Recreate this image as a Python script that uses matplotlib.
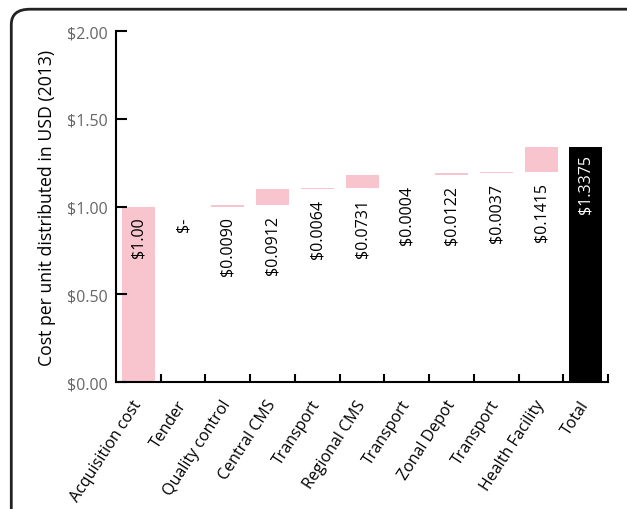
import numpy as np
import matplotlib
matplotlib.use("Agg")
import matplotlib.pyplot as plt
from matplotlib.patches import FancyBboxPatch

plt.rcParams['font.family'] = ['Open Sans', 'DejaVu Sans']

# ---- data ----
categories = ["Acquisition cost", "Tender", "Quality control", "Central CMS", "Transport",
              "Regional CMS", "Transport", "Zonal Depot", "Transport", "Health Facility", "Total"]
steps = [1.00, 0.0, 0.0090, 0.0912, 0.0064, 0.0731, 0.0004, 0.0122, 0.0037, 0.1415]
total = 1.3375
value_labels = ["$1.00", "$-", "$0.0090", "$0.0912", "$0.0064", "$0.0731",
                "$0.0004", "$0.0122", "$0.0037", "$0.1415", "$1.3375"]
yticks = [0.0, 0.5, 1.0, 1.5, 2.0]
ytick_labels = ["$0.00", "$0.50", "$1.00", "$1.50", "$2.00"]

pink = "#f8c5cf"

fig = plt.figure(figsize=(6.27, 5.10), dpi=100)
ax = fig.add_axes([0.185, 0.249, 0.785, 0.688])

x = np.arange(len(categories))
bottoms = np.concatenate([[0], np.cumsum(steps)[:-1]])
heights = np.array(steps)

# waterfall steps
ax.bar(x[:-1], heights, bottom=bottoms, width=0.74, color=pink, linewidth=0)
# total bar
ax.bar(x[-1], total, width=0.74, color="black", linewidth=0)

# value labels (rotated)
for i, lab in enumerate(value_labels):
    if i == len(value_labels) - 1:
        ax.annotate(lab, (x[i], total), xytext=(0, -5), textcoords="offset points",
                    rotation=90, ha="center", va="top", fontsize=11.5, color="white")
    else:
        anchor = bottoms[i] if bottoms[i] > 0 else bottoms[i] + heights[i]
        ax.annotate(lab, (x[i], anchor), xytext=(0, -7), textcoords="offset points",
                    rotation=90, ha="center", va="top", fontsize=11.5, color="black")

ax.set_xlim(-0.5, len(categories) - 0.5)
ax.set_ylim(0, 2.0)
ax.set_yticks(yticks)
ax.set_yticklabels(ytick_labels, color="#666666", fontsize=11.5)
ax.tick_params(axis="y", direction="in", length=8, width=1.5, pad=6)

ax.set_xticks(x)
ax.set_xticklabels(categories, rotation=57, ha="right", va="center",
                   rotation_mode="anchor", fontsize=11.5)
ax.tick_params(axis="x", which="major", length=0, pad=14)
ax.set_xticks(np.arange(0.5, len(categories)), minor=True)
ax.tick_params(axis="x", which="minor", direction="in", length=6, width=1.5)

for s in ["top", "right"]:
    ax.spines[s].set_visible(False)
for s in ["left", "bottom"]:
    ax.spines[s].set_linewidth(1.5)

ax.set_ylabel("Cost per unit distributed in USD (2013)", fontsize=12.7, labelpad=8)

# rounded frame around the figure
frame = FancyBboxPatch((0.018, -0.1), 1.1, 1.08, boxstyle="round,pad=0,rounding_size=0.03",
                       transform=fig.transFigure, fill=False, edgecolor="#222222",
                       linewidth=2, clip_on=False)
fig.patches.append(frame)

fig.savefig("out.png", dpi=100)
